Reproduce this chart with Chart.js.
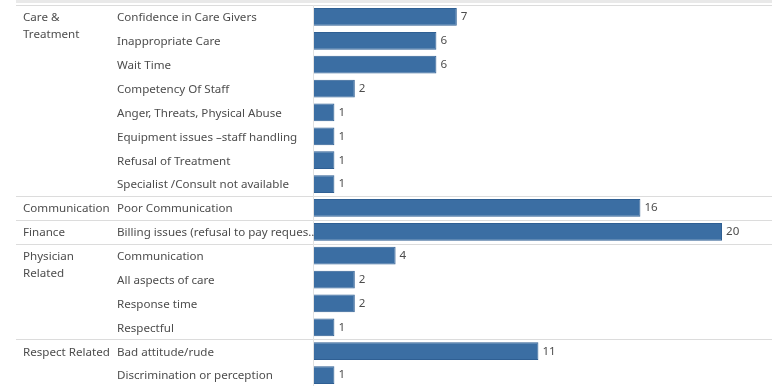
<!DOCTYPE html>
<html>
<head>
<meta charset="utf-8">
<script src="https://cdn.jsdelivr.net/npm/chart.js@4/dist/chart.umd.min.js"></script>
<style>
  html, body { margin: 0; padding: 0; background: #fff; overflow: hidden; }
  #wrap { width: 772px; height: 390px; }
</style>
</head>
<body>
<div id="wrap"><canvas id="grafico" width="772" height="390"></canvas></div>
<script>
// ============ Datos ============
var grupos = ["Care &\nTreatment", "Communication", "Finance", "Physician\nRelated", "Respect Related"];
var filasPorGrupo = [8, 1, 1, 4, 2];
var categorias = [
  "Confidence in Care Givers",
  "Inappropriate Care",
  "Wait Time",
  "Competency Of Staff",
  "Anger, Threats, Physical Abuse",
  "Equipment issues \u2013staff handling",
  "Refusal of Treatment",
  "Specialist /Consult not available",
  "Poor Communication",
  "Billing issues (refusal to pay reques..",
  "Communication",
  "All aspects of care",
  "Response time",
  "Respectful",
  "Bad attitude/rude",
  "Discrimination or perception"
];
var valores = [7, 6, 6, 2, 1, 1, 1, 1, 16, 20, 4, 2, 2, 1, 11, 1];

var colorBarra = "#3b6ea3";
var colorTexto = "#4d4d4d";
var fuente = "11.6px 'Noto Sans', sans-serif";

// ============ Plugin: etiquetas de filas, grupos y separadores ============
var pluginTabla = {
  id: "tabla",
  beforeDraw(chart) {
    const ctx = chart.ctx;
    const area = chart.chartArea;
    const y = chart.scales.y;
    const alto = (area.bottom - area.top) / categorias.length;
    ctx.save();
    // banda superior
    ctx.fillStyle = "#e9e9e9";
    ctx.fillRect(16, 0, chart.width - 16, 3);
    // separadores de grupo
    ctx.strokeStyle = "#dcdcdc";
    ctx.lineWidth = 1;
    let fila = 0;
    const lineas = [area.top];
    filasPorGrupo.forEach(n => { fila += n; lineas.push(area.top + fila * alto); });
    lineas.forEach(py => {
      ctx.beginPath();
      ctx.moveTo(16, Math.round(py) + 0.5);
      ctx.lineTo(chart.width, Math.round(py) + 0.5);
      ctx.stroke();
    });
    // eje vertical
    ctx.strokeStyle = "#e2e2e2";
    ctx.beginPath();
    ctx.moveTo(area.left - 0.5, area.top);
    ctx.lineTo(area.left - 0.5, area.bottom);
    ctx.stroke();
    // textos
    ctx.font = fuente;
    ctx.fillStyle = colorTexto;
    ctx.textAlign = "left";
    ctx.textBaseline = "middle";
    categorias.forEach((c, i) => {
      ctx.fillText(c, 117, y.getPixelForValue(i) + 1);
    });
    fila = 0;
    grupos.forEach((g, gi) => {
      const py = y.getPixelForValue(fila) + 1;
      g.split("\n").forEach((linea, li) => {
        ctx.fillText(linea, 23, py + li * 17);
      });
      fila += filasPorGrupo[gi];
    });
    ctx.restore();
  },
  afterDatasetsDraw(chart) {
    const ctx = chart.ctx;
    const meta = chart.getDatasetMeta(0);
    ctx.save();
    ctx.font = fuente;
    ctx.fillStyle = colorTexto;
    ctx.textAlign = "left";
    ctx.textBaseline = "middle";
    meta.data.forEach((bar, i) => {
      ctx.fillText(String(valores[i]), bar.x + 4, bar.y);
    });
    ctx.restore();
  }
};

new Chart(document.getElementById("grafico"), {
  type: "bar",
  data: {
    labels: categorias,
    datasets: [{
      data: valores,
      backgroundColor: colorBarra,
      borderColor: "#2f5f93",
      borderWidth: 1,
      barPercentage: 0.74,
      categoryPercentage: 1
    }]
  },
  options: {
    indexAxis: "y",
    responsive: false,
    animation: false,
    layout: { padding: { left: 314, right: 0, top: 5, bottom: 3 } },
    scales: {
      x: { display: false, min: 0, max: 22.45 },
      y: { display: false }
    },
    plugins: {
      legend: { display: false },
      tooltip: { enabled: false }
    }
  },
  plugins: [pluginTabla]
});
</script>
</body>
</html>
